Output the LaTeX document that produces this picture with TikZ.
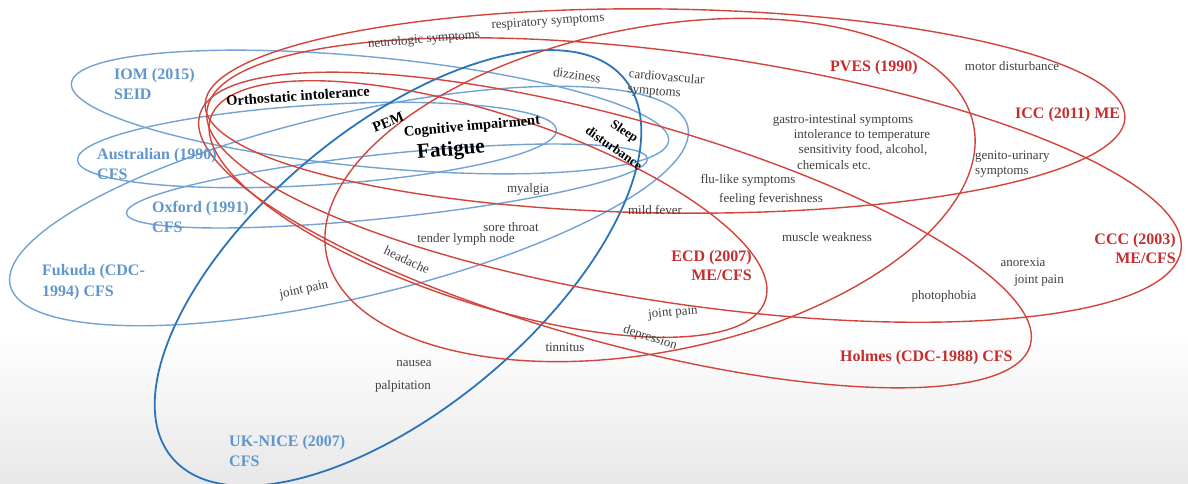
\documentclass[tikz,border=0pt]{standalone}
\usepackage{fontspec}
\setmainfont{Liberation Serif}
\usepackage{xcolor}
\usetikzlibrary{positioning}
\definecolor{critblue}{RGB}{115,163,212}
\definecolor{niceblue}{RGB}{42,116,186}
\definecolor{critred}{RGB}{210,68,60}
\definecolor{labelred}{RGB}{196,46,46}
\definecolor{labelblue}{RGB}{96,150,205}

\begin{document}
\begin{tikzpicture}[x=1pt, y=-1pt,
    blueset/.style={draw=critblue, line width=1.4pt},
    niceset/.style={draw=niceblue, line width=1.8pt},
    redset/.style={draw=critred, line width=1.4pt},
    bluelab/.style={text=labelblue, font=\bfseries\fontsize{16}{20.5}\selectfont, align=left, inner sep=0pt},
    redlab/.style={text=labelred, font=\bfseries\fontsize{16}{19}\selectfont, inner sep=0pt},
    symlab/.style={text=black!75, font=\fontsize{13}{15}\selectfont, inner sep=0pt},
    keylab/.style={text=black, font=\bfseries\fontsize{14.5}{16}\selectfont, inner sep=0pt}]
    \useasboundingbox (0,0) rectangle (1188,483);
    \fill[white] (0,0) rectangle (1188,483);
    \shade[top color=white, bottom color=black!9] (0,330) rectangle (1188,483);

    % blue criteria
    \foreach \cx/\cy/\ang/\ra/\rb in {370/112/-5.5/300/55, 317/145/3.6/240/40,
        387/186/6/262/32, 349/206/13.2/348/92}
        \draw[blueset, rotate around={\ang:(\cx,\cy)}] (\cx,\cy) ellipse [x radius=\ra, y radius=\rb];
    \draw[niceset, rotate around={40:(398,268)}] (398,268) ellipse [x radius=295, y radius=140];

    % red criteria
    \foreach \cx/\cy/\ang/\ra/\rb in {665/111/-0.8/460/102, 694/180/-8.2/492/125,
        615/230/-15.5/431/112, 488/209/-18.2/292/95, 650/190/11.35/330/162}
        \draw[redset, rotate around={\ang:(\cx,\cy)}] (\cx,\cy) ellipse [x radius=\ra, y radius=\rb];

    \node[bluelab, anchor=west] (iom) at (114,84) {IOM (2015)\\SEID};
    \node[bluelab, anchor=west] (australian) at (97,164) {Australian (1990)\\CFS};
    \node[bluelab, anchor=west] (oxford) at (152,217) {Oxford (1991)\\CFS};
    \node[bluelab, anchor=west] (fukuda) at (42,282) {Fukuda (CDC-\\1994) CFS};
    \node[bluelab, anchor=west] (nice) at (229,451) {UK-NICE (2007)\\CFS};
    \node[redlab, anchor=west] (pves) at (830,68) {PVES (1990)};
    \node[redlab, anchor=west] (icc) at (1015,115) {ICC (2011) ME};
    \node[redlab, anchor=east, align=right] (ccc) at (1176,249) {CCC (2003)\\ME/CFS};
    \node[redlab, anchor=east, align=right] (ecd) at (752,266) {ECD (2007)\\ME/CFS};
    \node[redlab, anchor=west] (holmes) at (840,358) {Holmes (CDC-1988) CFS};

    \node[keylab, rotate=4] (ortho) at (298,96) {Orthostatic intolerance};
    \node[keylab, rotate=22] (pem) at (388,122) {PEM};
    \node[keylab, rotate=5] (cognitive) at (472,127) {Cognitive impairment};
    \node[keylab, rotate=5, font=\bfseries\fontsize{21}{24}\selectfont] (fatigue) at (451,151) {Fatigue};
    \node[keylab, rotate=-33, font=\bfseries\fontsize{13}{14}\selectfont] (sleep) at (624,132) {Sleep};
    \node[keylab, rotate=-35, font=\bfseries\fontsize{13}{14}\selectfont] (disturb) at (614,148) {disturbance};

    \node[symlab, rotate=5] (neuro) at (424,40) {neurologic symptoms};
    \node[symlab, rotate=4] (resp) at (548,22) {respiratory symptoms};
    \node[symlab, rotate=-8] (dizzy) at (577,75) {dizziness};
    \node[symlab, rotate=-5, align=left, anchor=west] (cardio) at (628,82) {cardiovascular\\symptoms};
    \node[symlab] (motor) at (1012,66) {motor disturbance};
    \node[symlab] (gastro) at (843,120) {gastro-intestinal symptoms};
    \node[symlab] (temp) at (862,135) {intolerance to temperature};
    \node[symlab] (food) at (863,150) {sensitivity food, alcohol,};
    \node[symlab] (chem) at (834,165) {chemicals etc.};
    \node[symlab, align=left, anchor=west] (genito) at (975,164) {genito-urinary\\symptoms};
    \node[symlab] (myalgia) at (528,189) {myalgia};
    \node[symlab] (flu) at (748,180) {flu-like symptoms};
    \node[symlab] (feverish) at (771,199) {feeling feverishness};
    \node[symlab] (fever) at (655,210) {mild fever};
    \node[symlab] (throat) at (511,227) {sore throat};
    \node[symlab] (lymph) at (466,239) {tender lymph node};
    \node[symlab, rotate=-25] (headache) at (407,260) {headache};
    \node[symlab] (muscle) at (827,237) {muscle weakness};
    \node[symlab] (anorexia) at (1023,262) {anorexia};
    \node[symlab] (jointccc) at (1039,281) {joint pain};
    \node[symlab] (photo) at (944,296) {photophobia};
    \node[symlab, rotate=12] (jointfuk) at (304,290) {joint pain};
    \node[symlab, rotate=5] (jointecd) at (673,313) {joint pain};
    \node[symlab, rotate=-18] (depression) at (650,338) {depression};
    \node[symlab] (tinnitus) at (565,347) {tinnitus};
    \node[symlab] (nausea) at (414,363) {nausea};
    \node[symlab] (palpitation) at (403,386) {palpitation};
\end{tikzpicture}
\end{document}
